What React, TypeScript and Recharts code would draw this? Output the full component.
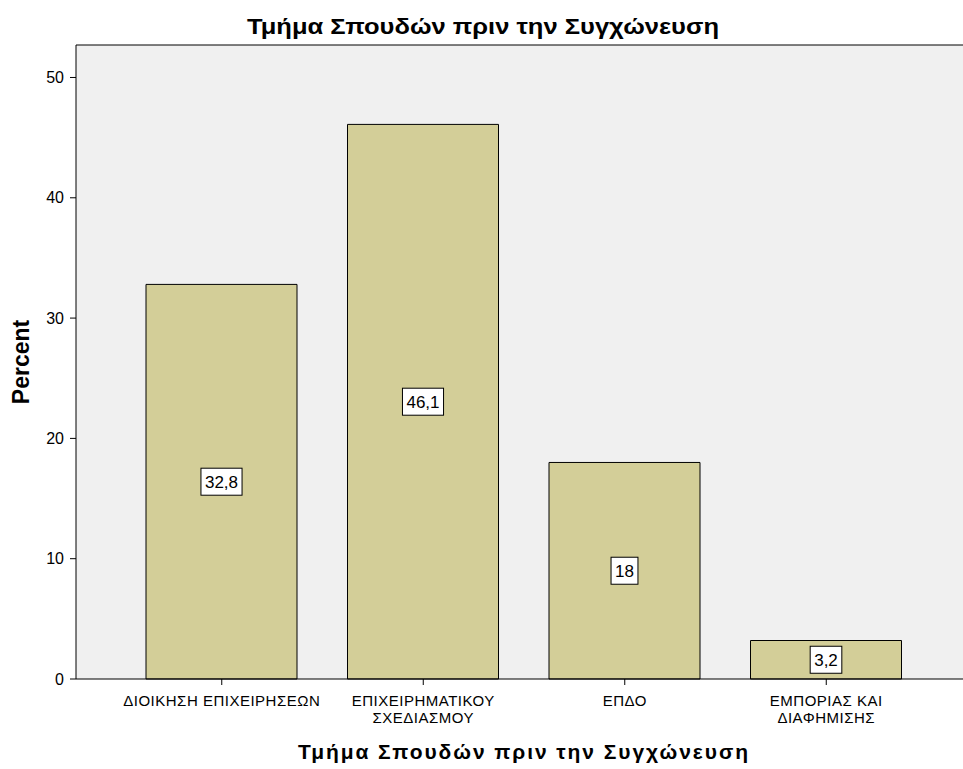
import { BarChart, Bar, XAxis, YAxis, LabelList, ReferenceLine, CartesianGrid } from 'recharts';

const categories = ['ΔΙΟΙΚΗΣΗ ΕΠΙΧΕΙΡΗΣΕΩΝ', 'ΕΠΙΧΕΙΡΗΜΑΤΙΚΟΥ ΣΧΕΔΙΑΣΜΟΥ', 'ΕΠΔΟ', 'ΕΜΠΟΡΙΑΣ ΚΑΙ ΔΙΑΦΗΜΙΣΗΣ'];
const tickLines = [['ΔΙΟΙΚΗΣΗ ΕΠΙΧΕΙΡΗΣΕΩΝ'], ['ΕΠΙΧΕΙΡΗΜΑΤΙΚΟΥ', 'ΣΧΕΔΙΑΣΜΟΥ'], ['ΕΠΔΟ'], ['ΕΜΠΟΡΙΑΣ ΚΑΙ', 'ΔΙΑΦΗΜΙΣΗΣ']];
const percents = [32.8, 46.1, 18, 3.2];
const yTicks = [0, 10, 20, 30, 40, 50];
const yMax = 52.7;

const title = 'Τμήμα Σπουδών πριν την Συγχώνευση';
const xTitle = 'Τμήμα Σπουδών πριν την Συγχώνευση';
const yTitle = 'Percent';

const data = categories.map((c, i) => ({ category: c, percent: percents[i] }));

const font = 'Arial, "Liberation Sans", sans-serif';

const fmt = (v: number) => String(v).replace('.', ',');

const XTick = (props: any) => {
    const { x, y, index } = props;
    const lines = tickLines[index] || [];
    return (
        <text x={x} y={y} textAnchor="middle" fontSize={15} letterSpacing={0.5} fontFamily={font} fill="#000">
            {lines.map((l, i) => (
                <tspan key={i} x={x} dy={i === 0 ? 19 : 17}>
                    {l}
                </tspan>
            ))}
        </text>
    );
};

const ValueBox = (props: any) => {
    const { x, y, width, height, value } = props;
    const txt = fmt(value);
    let w = 0;
    for (const ch of txt) w += ch === ',' ? 0.278 : 0.556;
    const boxW = w * 17 + 8;
    const boxH = 27;
    const cx = x + width / 2;
    const cy = y + height / 2;
    return (
        <g>
            <rect x={cx - boxW / 2} y={cy - boxH / 2} width={boxW} height={boxH} fill="#fff" stroke="#000" strokeWidth={1} />
            <text x={cx} y={cy + 6} textAnchor="middle" fontSize={17} fontFamily={font} fill="#000">
                {txt}
            </text>
        </g>
    );
};

export default function App() {
    return (
        <div style={{ position: 'absolute', left: 0, top: 0, width: 963, height: 769, background: '#fff' }}>
            <BarChart
                width={963}
                height={769}
                data={data}
                margin={{ top: 45, right: 0, bottom: 0, left: 0 }}
                barSize={151}
            >
                <CartesianGrid fill="#f0f0f0" stroke="none" horizontal={false} vertical={false} />
                <ReferenceLine y={yMax} stroke="#000" strokeWidth={1} ifOverflow="extendDomain" />
                <XAxis
                    dataKey="category"
                    height={90}
                    padding={{ left: 45, right: 36 }}
                    tick={<XTick />}
                    tickSize={6}
                    tickLine={{ stroke: '#000' }}
                    axisLine={{ stroke: '#000' }}
                    interval={0}
                />
                <YAxis
                    width={76}
                    domain={[0, yMax]}
                    ticks={yTicks}
                    tickSize={6}
                    tickMargin={6}
                    tick={{ fontSize: 16, fill: '#000', fontFamily: font }}
                    tickLine={{ stroke: '#000' }}
                    axisLine={{ stroke: '#000' }}
                />
                <Bar dataKey="percent" fill="#d3ce98" stroke="#000" strokeWidth={1} isAnimationActive={false}>
                    <LabelList dataKey="percent" content={<ValueBox />} />
                </Bar>
            </BarChart>
            <svg width={963} height={769} style={{ position: 'absolute', left: 0, top: 0, pointerEvents: 'none' }}>
                <text x={483} y={34} textAnchor="middle" fontSize={22} fontWeight="bold" fontFamily={font} textLength={472} lengthAdjust="spacingAndGlyphs">
                    {title}
                </text>
                <text x={523} y={759} textAnchor="middle" fontSize={21} fontWeight="bold" fontFamily={font} textLength={450} lengthAdjust="spacing">
                    {xTitle}
                </text>
                <text x={29} y={362} textAnchor="middle" fontSize={23} fontWeight="bold" fontFamily={font} transform="rotate(-90 29 362)">
                    {yTitle}
                </text>
            </svg>
        </div>
    );
}
